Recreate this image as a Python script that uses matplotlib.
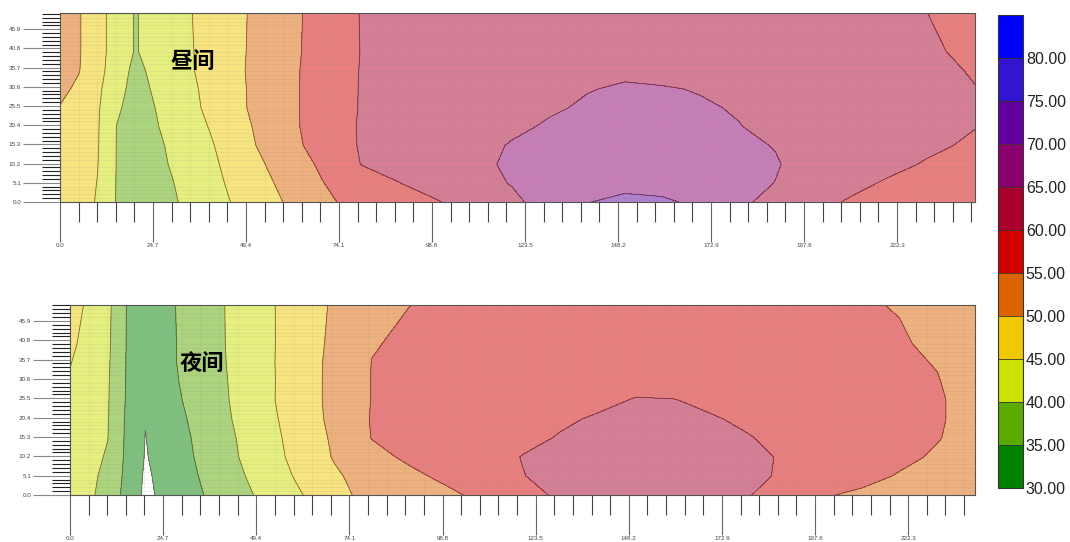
import numpy as np
import matplotlib
matplotlib.use("Agg")
import matplotlib.pyplot as plt
import matplotlib.ticker as mticker
from matplotlib.colors import ListedColormap, BoundaryNorm
from matplotlib.colorbar import ColorbarBase

plt.rcParams['font.family'] = ['Liberation Sans', 'Noto Sans CJK SC', 'DejaVu Sans']

# ==========================================================
# Data
# ==========================================================

LEVELS = [30, 35, 40, 45, 50, 55, 60, 65, 70, 75, 80, 85]
BAND_COLORS = ["#008200", "#5aaa00", "#cde100", "#f0c800", "#dc6400",
               "#d20000", "#aa002d", "#8c006e", "#6400a0", "#3214d2", "#0000ff"]
CBAR_TICKS = [30, 35, 40, 45, 50, 55, 60, 65, 70, 75, 80]

XTICKS = [0.0, 24.7, 49.4, 74.1, 98.8, 123.5, 148.2, 172.9, 197.6, 222.3]
YTICKS = [0.0, 5.1, 10.2, 15.3, 20.4, 25.5, 30.6, 35.7, 40.8, 45.9]

X_DAY = [0, 5, 10, 15, 20, 25, 30, 35, 40, 45, 50, 55, 60, 65, 70, 75, 80,
         90, 100, 110, 120, 130, 140, 150, 160, 170, 180, 190, 200, 210, 220, 230, 243]
X_NIGHT = [0, 5, 10, 15, 20, 25, 30, 35, 40, 45, 50, 55, 60, 65, 70, 75, 80,
           90, 100, 110, 120, 130, 140, 150, 160, 170, 180, 190, 200, 210, 220, 230, 240]
Y_ROWS = [0, 5, 10, 15, 20, 25, 30, 35, 40, 50]

# 昼间 (day)
DAY = [
    [48.0, 46.5, 44.7, 39.7, 37.8, 37.9, 39.5, 41.25, 43.1, 44.9, 46.7, 48.5, 50.3, 52.2, 54.05, 55.4, 56.3,
     58.0, 59.7, 61.9, 64.1, 66.8, 69.8, 71.5, 70.9, 68.8, 66.0, 63.5, 61.2, 59.6, 58.8, 58.0, 57.0],
    [48.0, 46.5, 44.9, 39.8, 38.2, 38.4, 39.9, 41.8, 43.6, 45.5, 47.4, 49.3, 51.2, 53.1, 54.95, 56.2, 57.5,
     59.9, 61.8, 63.6, 65.2, 66.2, 67.2, 68.2, 67.8, 66.9, 65.9, 64.95, 63.0, 61.0, 59.55, 58.7, 57.5],
    [48.0, 46.6, 45.1, 39.9, 38.3, 38.85, 40.4, 42.3, 44.1, 46.05, 48.15, 50.2, 52.1, 54.0, 55.95, 58.0, 60.1,
     61.5, 62.9, 64.4, 65.4, 66.0, 66.7, 67.3, 67.1, 66.5, 65.8, 65.2, 63.9, 62.5, 61.0, 59.7, 58.5],
    [48.5, 46.9, 45.3, 39.9, 38.05, 39.0, 40.8, 42.7, 44.55, 46.8, 49.15, 51.25, 53.2, 55.15, 57.1, 59.0, 60.3,
     61.6, 62.85, 64.1, 65.2, 65.75, 66.3, 66.85, 66.6, 66.05, 65.5, 64.9, 63.8, 62.8, 61.8, 60.75, 59.4],
    [49.0, 47.2, 45.4, 39.95, 37.7, 39.5, 41.5, 43.3, 45.3, 47.4, 49.6, 51.6, 53.6, 55.5, 57.4, 59.2, 60.3,
     61.4, 62.4, 63.5, 64.5, 65.3, 65.8, 66.35, 66.15, 65.6, 65.1, 64.4, 63.6, 62.8, 61.9, 61.1, 60.1],
    [49.8, 47.7, 45.55, 40.7, 38.2, 39.9, 41.95, 44.0, 46.05, 48.1, 50.15, 51.95, 53.75, 55.5, 57.3, 59.1, 60.2,
     61.1, 62.0, 62.9, 63.8, 64.7, 65.3, 65.75, 65.65, 65.3, 64.8, 64.05, 63.3, 62.55, 61.8, 61.05, 60.1],
    [51.0, 49.2, 46.0, 41.5, 38.5, 40.4, 42.4, 44.3, 46.3, 48.2, 50.2, 52.0, 53.75, 55.5, 57.3, 59.0, 60.2,
     60.9, 61.7, 62.5, 63.2, 64.0, 64.9, 65.25, 65.2, 64.85, 64.1, 63.5, 62.85, 62.2, 61.55, 60.9, 60.05],
    [51.5, 50.2, 46.6, 42.45, 38.8, 41.05, 42.9, 44.75, 46.6, 48.5, 50.3, 52.0, 53.7, 55.45, 57.25, 59.0, 60.15,
     60.8, 61.4, 62.05, 62.7, 63.3, 63.95, 64.6, 64.1, 63.6, 63.05, 62.55, 62.05, 61.55, 61.0, 60.5, 59.85],
    [52.0, 50.4, 46.7, 43.0, 39.7, 41.5, 43.2, 44.8, 46.6, 48.4, 50.2, 51.9, 53.6, 55.3, 57.0, 58.7, 60.1,
     60.6, 61.2, 61.75, 62.3, 62.9, 63.4, 64.0, 63.5, 63.1, 62.6, 62.2, 61.7, 61.2, 60.8, 60.35, 59.5],
    [52.0, 50.4, 46.7, 43.0, 39.7, 41.6, 43.3, 44.95, 46.7, 48.4, 50.1, 51.8, 53.5, 55.2, 56.9, 58.5, 60.2,
     60.8, 61.4, 61.9, 62.4, 62.9, 63.3, 63.6, 63.3, 63.0, 62.4, 61.9, 61.4, 60.9, 60.5, 60.05, 58.8],
]

# 夜间 (night)
NIGHT = [
    [43.0, 41.0, 37.9, 33.6, 29.0, 31.0, 32.9, 34.8, 36.7, 38.6, 40.5, 42.4, 44.3, 46.2, 48.1, 50.05, 50.8,
     52.5, 54.1, 56.2, 58.7, 60.6, 62.0, 63.3, 63.2, 61.7, 60.2, 57.8, 55.3, 54.3, 53.5, 52.8, 52.0],
    [43.0, 41.3, 38.6, 33.9, 29.3, 31.3, 33.3, 35.4, 37.4, 39.4, 41.4, 43.4, 45.4, 47.4, 49.3, 50.7, 51.8,
     54.0, 56.0, 58.0, 59.9, 61.0, 62.0, 63.0, 62.95, 61.85, 60.75, 59.5, 57.8, 56.2, 54.7, 53.6, 52.5],
    [43.3, 41.6, 39.5, 34.1, 29.7, 31.7, 33.8, 35.9, 38.0, 40.1, 42.1, 44.15, 46.2, 48.3, 50.3, 52.0, 53.6,
     55.8, 57.2, 58.7, 60.1, 60.9, 61.7, 62.6, 62.5, 61.6, 60.7, 59.65, 58.4, 57.2, 55.9, 54.5, 53.0],
    [43.6, 41.85, 40.1, 34.2, 29.9, 32.0, 34.1, 36.2, 38.3, 40.4, 42.5, 44.5, 46.5, 48.55, 50.7, 53.1, 55.1,
     56.15, 57.2, 58.25, 59.3, 60.2, 60.85, 61.5, 61.5, 60.8, 60.15, 59.2, 58.2, 57.2, 56.2, 55.2, 53.5],
    [44.0, 42.1, 40.3, 34.3, 30.15, 32.35, 34.55, 36.7, 38.8, 40.85, 42.9, 44.9, 47.0, 49.0, 51.2, 53.5, 55.2,
     56.05, 56.9, 57.8, 58.7, 59.6, 60.3, 60.9, 60.9, 60.25, 59.5, 58.65, 57.8, 57.0, 56.15, 55.3, 54.0],
    [44.3, 42.4, 40.4, 34.6, 31.3, 32.95, 35.1, 37.1, 39.1, 41.15, 43.2, 45.25, 47.2, 49.2, 51.3, 53.5, 55.1,
     55.8, 56.5, 57.2, 57.9, 58.6, 59.4, 60.15, 60.1, 59.4, 58.65, 58.0, 57.35, 56.7, 56.05, 55.3, 54.0],
    [44.6, 42.6, 40.5, 34.7, 32.0, 33.3, 35.5, 37.4, 39.3, 41.2, 43.2, 45.2, 47.2, 49.2, 51.3, 53.5, 55.1,
     55.7, 56.3, 56.9, 57.4, 58.0, 58.6, 59.2, 58.7, 58.2, 57.7, 57.15, 56.6, 56.1, 55.6, 55.1, 54.0],
    [45.2, 43.0, 40.7, 34.8, 32.6, 33.75, 35.65, 37.55, 39.45, 41.4, 43.3, 45.25, 47.2, 49.2, 51.2, 53.25, 55.05,
     55.5, 56.0, 56.45, 56.9, 57.35, 57.85, 58.3, 57.9, 57.45, 57.0, 56.6, 56.2, 55.75, 55.35, 54.9, 53.8],
    [45.8, 43.7, 40.9, 34.85, 32.5, 33.7, 35.7, 37.6, 39.55, 41.45, 43.3, 45.2, 47.2, 49.1, 50.9, 52.6, 54.8,
     55.5, 55.65, 56.0, 56.4, 56.75, 57.1, 57.5, 57.2, 56.85, 56.5, 56.2, 55.85, 55.5, 55.2, 54.6, 53.5],
    [46.5, 44.4, 41.15, 34.95, 32.65, 33.8, 35.8, 37.7, 39.6, 41.5, 43.4, 45.2, 47.1, 49.0, 50.5, 51.6, 52.7,
     54.98, 55.25, 55.5, 55.75, 56.0, 56.25, 56.5, 56.28, 56.06, 55.83, 55.6, 55.4, 55.17, 54.9, 54.2, 53.0],
]

# ==========================================================
# Figure
# ==========================================================

cmap = ListedColormap(BAND_COLORS)
norm = BoundaryNorm(LEVELS, cmap.N)

fig = plt.figure(figsize=(10.7, 5.42), dpi=100)
ax_day = fig.add_axes([0.0561, 0.6273, 0.8551, 0.3487])
ax_night = fig.add_axes([0.0654, 0.0867, 0.8458, 0.3506])
cax = fig.add_axes([0.9327, 0.0996, 0.0234, 0.8727])

panels = [
    (ax_day, X_DAY, DAY, "昼间", (35.3, 37.2), 50.2),
    (ax_night, X_NIGHT, NIGHT, "夜间", (35.1, 34.6), 50.1),
]

for ax, xs, zs, label, pos, ymax in panels:
    X, Y = np.meshgrid(xs, Y_ROWS)
    Z = np.array(zs)
    ax.contourf(X, Y, Z, levels=LEVELS, cmap=cmap, norm=norm, alpha=0.5)
    ax.contour(X, Y, Z, levels=LEVELS, colors="#5a3c3c", linewidths=0.6, alpha=0.7)

    ax.set_xlim(0, xs[-1])
    ax.set_ylim(0, ymax)

    ax.set_xticks(XTICKS)
    ax.set_xticklabels([f"{v:.1f}" for v in XTICKS])
    ax.set_yticks(YTICKS)
    ax.set_yticklabels([f"{v:.1f}" for v in YTICKS])
    ax.xaxis.set_minor_locator(mticker.MultipleLocator(4.94))
    ax.yaxis.set_minor_locator(mticker.MultipleLocator(1.02))

    ax.tick_params(axis="x", which="major", length=28.5, width=0.8, color="#666666",
                   labelsize=4.5, labelcolor="#444444", pad=1)
    ax.tick_params(axis="x", which="minor", length=14.5, width=0.8, color="#444444")
    ax.tick_params(axis="y", which="major", length=27, width=0.8, color="#888888",
                   labelsize=4.5, labelcolor="#444444", pad=1)
    ax.tick_params(axis="y", which="minor", length=13, width=0.8, color="#222222")

    ax.grid(which="minor", color="#888888", alpha=0.15, linewidth=0.5)
    for s in ax.spines.values():
        s.set_color("#555555")
        s.set_linewidth(0.8)

    ax.text(pos[0], pos[1], label, fontsize=16, fontweight="bold", ha="center", va="center",
            family=["Noto Sans CJK SC", "DejaVu Sans"], color="black")

cb = ColorbarBase(cax, cmap=cmap, norm=norm, boundaries=LEVELS, ticks=CBAR_TICKS,
                  drawedges=True, format="%.2f")
cb.outline.set_edgecolor("#333333")
cb.outline.set_linewidth(0.8)
cb.dividers.set_color("#333333")
cb.dividers.set_linewidth(0.6)
cb.dividers.set_clip_on(True)
cb.dividers.set_clip_box(cax.bbox)
cb.minorticks_off()
cax.tick_params(which="both", length=0, labelsize=11.5, labelcolor="#222222", pad=2)

fig.savefig("out.png", dpi=100)
